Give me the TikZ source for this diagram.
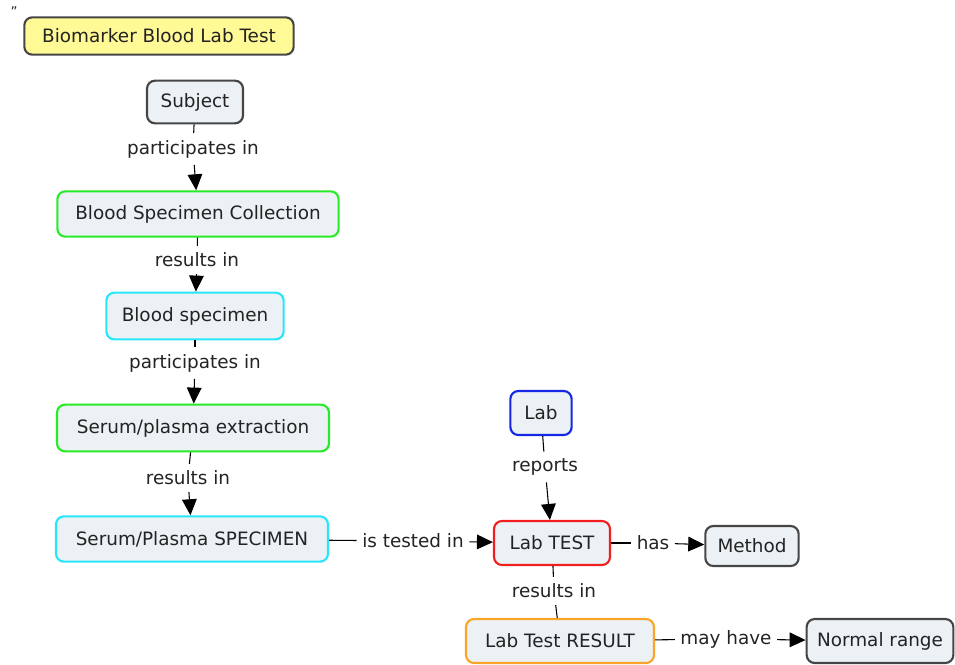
\documentclass[tikz,border=0pt]{standalone}
\usepackage{fontspec}
\setmainfont{DejaVu Sans}
\usetikzlibrary{arrows.meta}
\definecolor{boxfill}{RGB}{235,241,244}
\definecolor{txtgray}{RGB}{35,35,35}
\definecolor{edgegray}{RGB}{70,70,70}
\definecolor{titlefill}{RGB}{255,250,150}
\definecolor{cgreen}{RGB}{40,235,40}
\definecolor{ccyan}{RGB}{40,230,250}
\definecolor{cblue}{RGB}{20,40,230}
\definecolor{cred}{RGB}{240,30,30}
\definecolor{corange}{RGB}{250,165,40}
\begin{document}
\begin{tikzpicture}[x=0.75pt, y=-0.75pt,
    every node/.style={font=\fontsize{13.8}{16}\selectfont, text=txtgray},
    box/.style={draw=edgegray, fill=boxfill, rounded corners=6pt, line width=1.6pt,
        inner xsep=0pt, inner ysep=0pt},
    lbl/.style={inner xsep=4pt, inner ysep=5pt},
    arr/.style={-{Triangle[width=11pt,length=12pt]}, line width=0.8pt},
    con/.style={line width=0.8pt}]
    \useasboundingbox (0,0) rectangle (955,664);
    \node[inner sep=0pt, font=\fontsize{10}{10}\selectfont] (q) at (14,12) {\char"22};
    \node[box, fill=titlefill, minimum width=202pt, minimum height=28pt] (title) at (159,36) {Biomarker Blood Lab Test};
    \node[box, minimum width=72pt, minimum height=32pt] (subj) at (195,102) {Subject};
    \node[box, draw=cgreen, minimum width=211pt, minimum height=34pt] (bsc) at (198,214) {Blood Specimen Collection};
    \node[box, draw=ccyan, minimum width=133pt, minimum height=35pt] (bs) at (195,316) {Blood specimen};
    \node[box, draw=cgreen, minimum width=204pt, minimum height=35pt] (spe) at (193,428) {Serum/plasma extraction};
    \node[box, draw=ccyan, minimum width=204pt, minimum height=34pt] (sps) at (192,539) {Serum/Plasma SPECIMEN};
    \node[box, draw=cblue, minimum width=46pt, minimum height=33pt] (lab) at (541,413) {Lab};
    \node[box, draw=cred, minimum width=87pt, minimum height=33pt] (test) at (552,543) {Lab TEST};
    \node[box, minimum width=70pt, minimum height=30pt] (meth) at (752,546) {Method};
    \node[box, draw=corange, minimum width=141pt, minimum height=33pt] (res) at (560,641) {Lab Test RESULT};
    \node[box, minimum width=110pt, minimum height=33pt] (norm) at (880,641) {Normal range};
    % linking phrases
    \node[lbl] (l1) at (193,149) {participates in};
    \node[lbl] (l2) at (197,260) {results in};
    \node[lbl] (l3) at (195,363) {participates in};
    \node[lbl] (l4) at (188,478) {results in};
    \node[lbl] (l5) at (413,541) {is tested in};
    \node[lbl] (l6) at (545,467) {reports};
    \node[lbl] (l7) at (653,543) {has};
    \node[lbl] (l8) at (554,591) {results in};
    \node[lbl] (l9) at (726,639) {may have};
    \draw[con] (subj) -- (l1);  \draw[arr] (l1) -- (bsc);
    \draw[con] (bsc) -- (l2);   \draw[arr] (l2) -- (bs);
    \draw[con] (bs) -- (l3);    \draw[arr] (l3) -- (spe);
    \draw[con] (spe) -- (l4);   \draw[arr] (l4) -- (sps);
    \draw[con] (sps) -- (l5);   \draw[arr] (l5) -- (test);
    \draw[con] (lab) -- (l6);   \draw[arr] (l6) -- (test);
    \draw[con] (test) -- (l7);  \draw[arr] (l7) -- (meth);
    \draw[con] (test) -- (l8);  \draw[con] (l8) -- (res);
    \draw[con] (res) -- (l9);   \draw[arr] (l9) -- (norm);
\end{tikzpicture}
\end{document}
